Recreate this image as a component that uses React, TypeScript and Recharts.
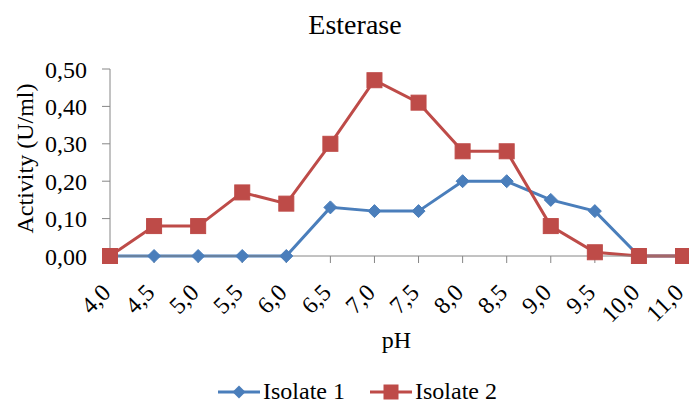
import { LineChart, Line, XAxis, YAxis, Legend } from "recharts";

const phLabels = ["4,0", "4,5", "5,0", "5,5", "6,0", "6,5", "7,0", "7,5", "8,0", "8,5", "9,0", "9,5", "10,0", "11,0"];
const isolate1 = [0, 0, 0, 0, 0, 0.13, 0.12, 0.12, 0.2, 0.2, 0.15, 0.12, 0, 0];
const isolate2 = [0, 0.08, 0.08, 0.17, 0.14, 0.3, 0.47, 0.41, 0.28, 0.28, 0.08, 0.01, 0, 0];
const yTicks = [0, 0.1, 0.2, 0.3, 0.4, 0.5];

const data = phLabels.map((ph, i) => ({ ph, isolate1: isolate1[i], isolate2: isolate2[i] }));

const BLUE = "#4a7ebb";
const RED = "#be4b48";
const AXIS = "#868686";
const FONT = "'Liberation Serif', 'Times New Roman', serif";

const Diamond = (props: any) => {
  const { cx, cy, index } = props;
  if (cx == null || cy == null) return null;
  const r = 6.5;
  return (
    <polygon
      key={"d" + index}
      points={`${cx},${cy - r} ${cx + r},${cy} ${cx},${cy + r} ${cx - r},${cy}`}
      fill={BLUE}
      stroke={BLUE}
      strokeWidth={1}
    />
  );
};

const Square = (props: any) => {
  const { cx, cy, index } = props;
  if (cx == null || cy == null) return null;
  const s = 15;
  return <rect key={"s" + index} x={cx - s / 2} y={cy - s / 2} width={s} height={s} fill={RED} stroke={RED} />;
};

const XTick = (props: any) => {
  const { x, y, payload } = props;
  const ax = x + 2;
  const ay = y + 29;
  return (
    <text
      x={ax}
      y={ay}
      textAnchor="end"
      transform={`rotate(-45, ${ax}, ${ay})`}
      fontFamily={FONT}
      fontSize={24}
      fill="#000"
    >
      {payload.value}
    </text>
  );
};

const fmt = (v: number) => v.toFixed(2).replace(".", ",");

const LegendContent = () => (
  <div style={{ display: "flex", justifyContent: "center", alignItems: "center", fontFamily: FONT, fontSize: 24, color: "#000" }}>
    <svg width={42} height={20} style={{ marginLeft: 26 }}>
      <line x1={0} y1={10} x2={42} y2={10} stroke={BLUE} strokeWidth={3} />
      <polygon points="21,3.5 27.5,10 21,16.5 14.5,10" fill={BLUE} />
    </svg>
    <span style={{ marginLeft: 3 }}>Isolate 1</span>
    <svg width={42} height={20} style={{ marginLeft: 25 }}>
      <line x1={0} y1={10} x2={42} y2={10} stroke={RED} strokeWidth={3} />
      <rect x={13.5} y={2.5} width={15} height={15} fill={RED} />
    </svg>
    <span style={{ marginLeft: 3 }}>Isolate 2</span>
  </div>
);

export default function App() {
  return (
    <div style={{ position: "relative", width: 689, height: 406, background: "#fff" }}>
      <style>{`body{margin:0}`}</style>
      <div
        style={{
          position: "absolute",
          top: 8,
          left: 0,
          width: 710,
          textAlign: "center",
          fontFamily: FONT,
          fontSize: 28,
          color: "#000",
          lineHeight: "34px",
        }}
      >
        Esterase
      </div>
      <LineChart width={689} height={406} data={data} margin={{ top: 69, right: 6, bottom: 58, left: 0 }}>
        <XAxis
          dataKey="ph"
          scale="point"
          padding={{ left: 0, right: 0 }}
          height={92}
          stroke={AXIS}
          tickSize={7}
          tickLine={{ stroke: AXIS }}
          tick={<XTick />}
          interval={0}
          label={{
            content: (p: any) => {
              const vb = p.viewBox;
              return (
                <text x={vb.x + vb.width / 2} y={vb.y + 92} textAnchor="middle" fontFamily={FONT} fontSize={24} fill="#000">
                  pH
                </text>
              );
            },
          }}
        />
        <YAxis
          width={110}
          domain={[0, 0.5]}
          ticks={yTicks}
          tickFormatter={fmt}
          stroke={AXIS}
          tickSize={8}
          tickMargin={15}
          tick={{ fill: "#000", fontFamily: FONT, fontSize: 24 }}
          label={{
            content: (p: any) => {
              const vb = p.viewBox;
              const cx = 33;
              const cy = vb.y + vb.height / 2 - 4;
              return (
                <text
                  x={cx}
                  y={cy}
                  textAnchor="middle"
                  transform={`rotate(-90, ${cx}, ${cy})`}
                  fontFamily={FONT}
                  fontSize={24}
                  fill="#000"
                >
                  Activity (U/ml)
                </text>
              );
            },
          }}
        />
        <Legend
          verticalAlign="middle"
          align="center"
          layout="horizontal"
          content={<LegendContent />}
          wrapperStyle={{ top: 378, left: 0, width: 689, height: 30 }}
        />
        <Line
          dataKey="isolate1"
          name="Isolate 1"
          stroke={BLUE}
          strokeWidth={3}
          dot={<Diamond />}
          activeDot={false}
          isAnimationActive={false}
        />
        <Line
          dataKey="isolate2"
          name="Isolate 2"
          stroke={RED}
          strokeWidth={3}
          dot={<Square />}
          activeDot={false}
          isAnimationActive={false}
        />
      </LineChart>
    </div>
  );
}
